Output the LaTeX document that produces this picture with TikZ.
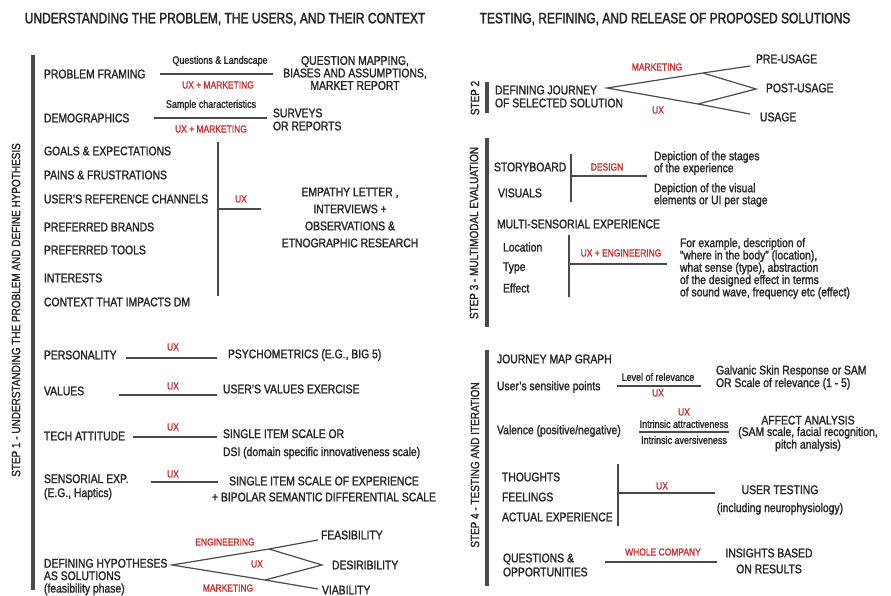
\documentclass[tikz,border=0pt]{standalone}
\usepackage{fontspec}
\setmainfont[FakeStretch=0.83, FakeBold=1.5]{Liberation Sans}
\newfontfamily\headfont[FakeStretch=0.8, FakeBold=2]{Liberation Sans}
\definecolor{ink}{HTML}{262626}
\definecolor{accent}{HTML}{C83232}
\definecolor{rulegray}{HTML}{4A4A4A}
\begin{document}
\begin{tikzpicture}[x=1pt,y=-1pt,
  every node/.style={inner sep=0pt, outer sep=0pt, text=ink},
  head/.style={font=\headfont\fontsize{15}{15}\selectfont},
  lbl/.style={anchor=west, align=left, font=\fontsize{12.5}{12.5}\selectfont},
  lblc/.style={align=center, font=\fontsize{12.5}{12.5}\selectfont},
  leading/.style={font=\fontsize{12.5}{#1}\selectfont},
  note/.style={font=\fontsize{10.8}{10.8}\selectfont},
  tag/.style={font=\fontsize{10.2}{10.2}\selectfont, text=accent},
  steptext/.style={rotate=90, font=\fontsize{12}{12}\selectfont},
  wire/.style={draw=rulegray, line width=1.2pt},
  bar/.style={draw=rulegray, line width=4pt}]
\useasboundingbox (0,0) rectangle (891,596);

% ---------- headings ----------
\node[head] (h1) at (225,19) {UNDERSTANDING THE PROBLEM, THE USERS, AND THEIR CONTEXT};
\node[head] (h2) at (665,19) {TESTING, REFINING, AND RELEASE OF PROPOSED SOLUTIONS};

% ---------- step 1 ----------
\coordinate (s1t) at (33,55); \coordinate (s1b) at (33,590);
\draw[bar] (s1t) -- (s1b);
\node[steptext] (s1) at (16,310) {STEP 1 - UNDERSTANDING THE PROBLEM AND DEFINE HYPOTHESIS};

% problem framing
\node[lbl] (pf) at (44,74) {PROBLEM FRAMING};
\coordinate (pfl) at (160,74); \coordinate (pfr) at (273,74);
\draw[wire] (pfl) -- (pfr);
\node[note] (pfn) at (220,61) {Questions \& Landscape};
\node[tag] (pft) at (218,85) {UX + MARKETING};
\node[lblc] (pfo) at (355,73) {QUESTION MAPPING,\\BIASES AND ASSUMPTIONS,\\MARKET REPORT};

% demographics
\node[lbl] (dm) at (44,118) {DEMOGRAPHICS};
\coordinate (dml) at (154,118); \coordinate (dmr) at (267,118);
\draw[wire] (dml) -- (dmr);
\node[note] (dmn) at (211,105) {Sample characteristics};
\node[tag] (dmt) at (211,129) {UX + MARKETING};
\node[lbl, leading=13] (dmo) at (273,119.5) {SURVEYS\\OR REPORTS};

% user profile list
\node[lbl] (g1) at (44,151) {GOALS \& EXPECTATIONS};
\node[lbl] (g2) at (44,175) {PAINS \& FRUSTRATIONS};
\node[lbl] (g3) at (44,199) {USER’S REFERENCE CHANNELS};
\node[lbl] (g4) at (44,227) {PREFERRED BRANDS};
\node[lbl] (g5) at (44,250) {PREFERRED TOOLS};
\node[lbl] (g6) at (44,278) {INTERESTS};
\node[lbl] (g7) at (44,302) {CONTEXT THAT IMPACTS DM};
\coordinate (gt) at (218,142); \coordinate (gb) at (218,296);
\coordinate (gm) at (218,209); \coordinate (gr) at (261,209);
\draw[wire] (gt) -- (gb);
\draw[wire] (gm) -- (gr);
\node[tag] (gx) at (241,199) {UX};
\node[lblc, leading=17] (go) at (350,217.5) {EMPATHY LETTER ,\\INTERVIEWS +\\OBSERVATIONS \&\\ETNOGRAPHIC RESEARCH};

% personality
\node[lbl] (pe) at (44,355) {PERSONALITY};
\coordinate (pel) at (126,358); \coordinate (per) at (217,358);
\draw[wire] (pel) -- (per);
\node[tag] (pex) at (173,347) {UX};
\node[lbl] (peo) at (228,355) {PSYCHOMETRICS (E.G., BIG 5)};

% values
\node[lbl] (va) at (44,391) {VALUES};
\coordinate (val) at (119,395); \coordinate (var) at (217,395);
\draw[wire] (val) -- (var);
\node[tag] (vax) at (173,386) {UX};
\node[lbl] (vao) at (223,389) {USER'S VALUES EXERCISE};

% tech attitude
\node[lbl] (ta) at (44,436) {TECH ATTITUDE};
\coordinate (tal) at (133,437); \coordinate (tar) at (217,437);
\draw[wire] (tal) -- (tar);
\node[tag] (tax) at (173,427) {UX};
\node[lbl, leading=18] (tao) at (223,444) {SINGLE ITEM SCALE OR\\DSI (domain specific innovativeness scale)};

% sensorial experience
\node[lbl, leading=14] (se) at (44,487) {SENSORIAL EXP.\\(E.G., Haptics)};
\coordinate (sel) at (151,482); \coordinate (ser) at (218,482);
\draw[wire] (sel) -- (ser);
\node[tag] (sex) at (173,474) {UX};
\node[lblc, leading=16] (seo) at (324,489) {SINGLE ITEM SCALE OF EXPERIENCE\\+ BIPOLAR SEMANTIC DIFFERENTIAL SCALE};

% hypotheses
\node[lbl] (hy) at (44,577) {DEFINING HYPOTHESES\\AS SOLUTIONS\\(feasibility phase)};
\coordinate (hyl) at (172,565); \coordinate (hyt) at (269,549);
\coordinate (hyr) at (322,565); \coordinate (hyb) at (265,580);
\coordinate (hyf) at (318,540); \coordinate (hyv) at (318,589);
\draw[wire, line join=miter] (hyl) -- (hyt) -- (hyr) -- (hyb) -- cycle;
\draw[wire] (hyt) -- (hyf);
\draw[wire] (hyb) -- (hyv);
\node[tag] (hye) at (225,542) {ENGINEERING};
\node[tag] (hyx) at (257,564) {UX};
\node[tag] (hym) at (228,588) {MARKETING};
\node[lbl] (fe) at (321,535) {FEASIBILITY};
\node[lbl] (de) at (332,565) {DESIRIBILITY};
\node[lbl] (vi) at (322,590) {VIABILITY};

% ---------- step 2 ----------
\coordinate (s2t) at (487,82); \coordinate (s2b) at (487,113);
\draw[bar] (s2t) -- (s2b);
\node[steptext] (s2) at (475,98) {STEP 2};
\node[lbl, leading=13] (dj) at (495,96.5) {DEFINING JOURNEY\\OF SELECTED SOLUTION};
\coordinate (djl) at (607,88); \coordinate (djt) at (703,73);
\coordinate (djr) at (756,89); \coordinate (djb) at (698,104);
\coordinate (djp) at (750,66); \coordinate (dju) at (750,114);
\draw[wire, line join=miter] (djl) -- (djt) -- (djr) -- (djb) -- cycle;
\draw[wire] (djt) -- (djp);
\draw[wire] (djb) -- (dju);
\node[tag] (djm) at (657,67) {MARKETING};
\node[tag] (djx) at (658,110) {UX};
\node[lbl] (pre) at (756,59) {PRE-USAGE};
\node[lbl] (post) at (766,88) {POST-USAGE};
\node[lbl] (use) at (760,117) {USAGE};

% ---------- step 3 ----------
\coordinate (s3t) at (487,138); \coordinate (s3b) at (487,327);
\draw[bar] (s3t) -- (s3b);
\node[steptext] (s3) at (474,233) {STEP 3 - MULTIMODAL EVALUATION};
\node[lbl] (sb) at (494,167) {STORYBOARD};
\node[lbl] (vs) at (498,193) {VISUALS};
\coordinate (sbt) at (571,154); \coordinate (sbb) at (571,202);
\coordinate (sbm) at (571,176); \coordinate (sbr) at (647,176);
\draw[wire] (sbt) -- (sbb);
\draw[wire] (sbm) -- (sbr);
\node[tag] (sbx) at (607,167) {DESIGN};
\node[lbl, leading=12] (sbo) at (654,163) {Depiction of the stages\\of the experience};
\node[lbl, leading=12] (vso) at (654,195) {Depiction of the visual\\elements or UI per stage};
\node[lbl] (ms) at (497,224) {MULTI-SENSORIAL EXPERIENCE};
\node[lbl] (lo) at (503,247) {Location};
\node[lbl] (ty) at (503,268) {Type};
\node[lbl] (ef) at (503,288) {Effect};
\coordinate (mst) at (569,235); \coordinate (msb) at (569,297);
\coordinate (msm) at (569,264); \coordinate (msr) at (667,264);
\draw[wire] (mst) -- (msb);
\draw[wire] (msm) -- (msr);
\node[tag] (msx) at (621,253) {UX + ENGINEERING};
\node[lbl, leading=12.3] (mso) at (680,268.5) {For example, description of\\“where in the body” (location),\\what sense (type), abstraction\\of the designed effect in terms\\of sound wave, frequency etc (effect)};

% ---------- step 4 ----------
\coordinate (s4t) at (487,350); \coordinate (s4b) at (487,586);
\draw[bar] (s4t) -- (s4b);
\node[steptext] (s4) at (475,465) {STEP 4 - TESTING AND ITERATION};
\node[lbl] (jm) at (497,359) {JOURNEY MAP GRAPH};
\node[lbl] (sp) at (497,387) {User’s sensitive points};
\coordinate (spl) at (617,386); \coordinate (spr) at (701,386);
\draw[wire] (spl) -- (spr);
\node[note] (spn) at (658,377) {Level of relevance};
\node[tag] (spx) at (658,393) {UX};
\node[lbl, leading=11.5] (spo) at (716,377.5) {Galvanic Skin Response or SAM\\OR Scale of relevance (1 - 5)};
\node[lbl] (vl) at (497,431) {Valence (positive/negative)};
\node[tag] (vlx) at (684,412) {UX};
\node[note] (vla) at (684,424) {Intrinsic attractiveness};
\coordinate (vll) at (639,432); \coordinate (vlr) at (729,432);
\draw[wire] (vll) -- (vlr);
\node[note] (vlv) at (684,440) {Intrinsic aversiveness};
\node[lblc, leading=11.5] (vlo) at (808,433.5) {AFFECT ANALYSIS\\(SAM scale, facial recognition,\\pitch analysis)};
\node[lbl] (th) at (502,477) {THOUGHTS};
\node[lbl] (fl) at (502,497) {FEELINGS};
\node[lbl] (ae) at (502,517) {ACTUAL EXPERIENCE};
\coordinate (utt) at (618,464); \coordinate (utb) at (618,526);
\coordinate (utm) at (618,493); \coordinate (utr) at (715,493);
\draw[wire] (utt) -- (utb);
\draw[wire] (utm) -- (utr);
\node[tag] (utx) at (662,486) {UX};
\node[lblc, leading=18] (uto) at (780,500) {USER TESTING\\(including neurophysiology)};
\node[lbl, leading=14] (qo) at (503,565) {QUESTIONS \&\\OPPORTUNITIES};
\coordinate (qol) at (605,562); \coordinate (qor) at (717,562);
\draw[wire] (qol) -- (qor);
\node[tag] (qox) at (663,552) {WHOLE COMPANY};
\node[lblc, leading=16] (qoo) at (769,561) {INSIGHTS BASED\\ON RESULTS};
\end{tikzpicture}
\end{document}
